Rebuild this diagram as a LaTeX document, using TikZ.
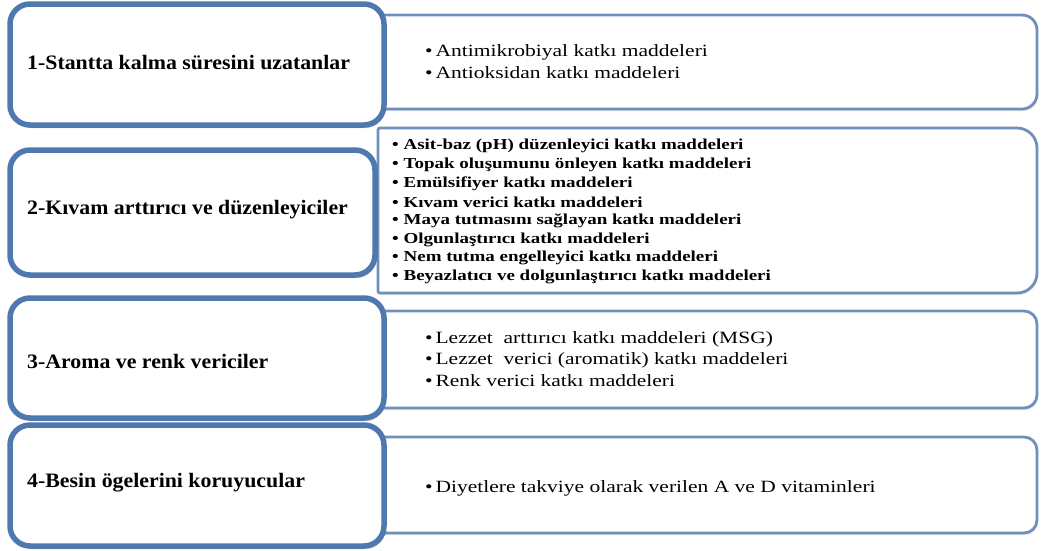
\documentclass[tikz,border=0pt]{standalone}
\usepackage{fontspec}
\setmainfont{Liberation Serif}
\newfontfamily\lfont[FakeStretch=1.065]{Liberation Serif}
\newfontfamily\rfont[FakeStretch=1.25]{Liberation Serif}
\usetikzlibrary{shadows}
\definecolor{lborder}{HTML}{4E78AE}
\definecolor{rborder}{HTML}{6F8FBD}
\tikzset{
  leftbox/.style={draw=lborder, line width=5.5pt, fill=white, rounded corners=20,
    drop shadow={shadow xshift=1.5pt, shadow yshift=-3pt, opacity=0.35, fill=black!60}},
  rightbox/.style={draw=rborder, line width=2.8pt, fill=white,
    drop shadow={shadow xshift=1pt, shadow yshift=-2pt, opacity=0.2, fill=black!50}},
  ltext/.style={anchor=west, inner sep=0pt, font=\lfont\bfseries\fontsize{20.5}{23}\selectfont, text=black},
  itema/.style={anchor=west, inner sep=0pt, font=\rfont\fontsize{17.2}{19}\selectfont, text=black},
  itemb/.style={anchor=west, inner sep=0pt, font=\rfont\bfseries\fontsize{15.2}{17}\selectfont, text=black},
}
\begin{document}
\begin{tikzpicture}[x=1pt, y=-1pt]
\useasboundingbox (0,0) rectangle (1041,550);
% right boxes (behind)
\draw[rightbox, rounded corners=15] (370,15) rectangle (1037,109);
\draw[rightbox, rounded corners=2] (378,293) -- (378,128) [rounded corners=20] -- (1037,128) -- (1037,293) [rounded corners=2] -- cycle;
\draw[rightbox, rounded corners=13] (370,311) rectangle (1037,408);
\draw[rightbox, rounded corners=13] (370,437) rectangle (1037,533);
% left boxes
\draw[leftbox] (10,4) rectangle (384,125);
\draw[leftbox] (10,150) rectangle (375,275);
\draw[leftbox] (10,298) rectangle (384,418);
\draw[leftbox] (10,425) rectangle (384,546);
% left labels
\node[ltext] (l1) at (27,63) {1-Stantta kalma süresini uzatanlar};
\node[ltext] (l2) at (27,210) {2-Kıvam arttırıcı ve düzenleyiciler};
\node[ltext] (l3) at (27,361) {3-Aroma ve renk vericiler};
\node[ltext] (l4) at (27,483) {4-Besin ögelerini koruyucular};
% items
\node[itema] (a1) at (425,52) {•\,Antimikrobiyal katkı maddeleri};
\node[itema] (a2) at (425,73) {•\,Antioksidan katkı maddeleri};
\node[itemb] (b1) at (392,146) {•\ Asit-baz (pH) düzenleyici katkı maddeleri};
\node[itemb] (b2) at (392,164.7) {•\ Topak oluşumunu önleyen katkı maddeleri};
\node[itemb] (b3) at (392,183.4) {•\ Emülsifiyer katkı maddeleri};
\node[itemb] (b4) at (392,202.1) {•\ Kıvam verici katkı maddeleri};
\node[itemb] (b5) at (392,220.8) {•\ Maya tutmasını sağlayan katkı maddeleri};
\node[itemb] (b6) at (392,239.5) {•\ Olgunlaştırıcı katkı maddeleri};
\node[itemb] (b7) at (392,258.2) {•\ Nem tutma engelleyici katkı maddeleri};
\node[itemb] (b8) at (392,276.9) {•\ Beyazlatıcı ve dolgunlaştırıcı katkı maddeleri};
\node[itema] (c1) at (425,339) {•\,Lezzet\ \ arttırıcı katkı maddeleri (MSG)};
\node[itema] (c2) at (425,360) {•\,Lezzet\ \ verici (aromatik) katkı maddeleri};
\node[itema] (c3) at (425,381) {•\,Renk verici katkı maddeleri};
\node[itema] (d1) at (425,488) {•\,Diyetlere takviye olarak verilen A ve D vitaminleri};
\end{tikzpicture}
\end{document}
